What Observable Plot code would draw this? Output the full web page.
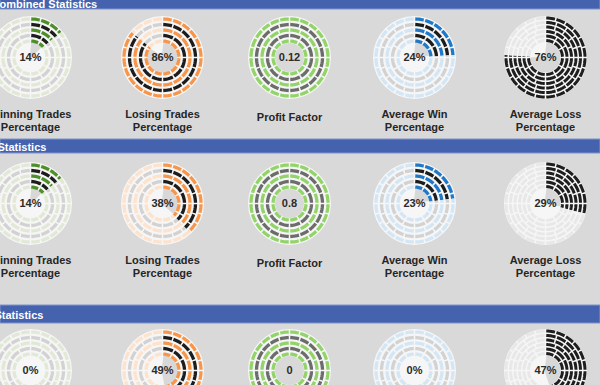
<!DOCTYPE html>
<html>
<head>
<meta charset="utf-8">
<script src="https://cdn.jsdelivr.net/npm/d3@7"></script>
<script src="https://cdn.jsdelivr.net/npm/@observablehq/plot@0.6"></script>
<style>
  html, body { margin: 0; padding: 0; background: #d9d9d9; overflow: hidden; }
</style>
</head>
<body>
<div id="chart"></div>
<script>
// ---- data ----
const sectionTitles = ["Combined Statistics", "Statistics", "Statistics"];
const metricLabels = ["Winning Trades\nPercentage", "Losing Trades\nPercentage", "Profit Factor", "Average Win\nPercentage", "Average Loss\nPercentage"];
const metricKinds = ["win", "lose", "pf", "avgwin", "avgloss"];
const combinedValues = [14, 86, 0.12, 24, 76];
const statisticsValues = [14, 38, 0.8, 23, 29];
const statistics2Values = [0, 49, 0, 0, 47];
const sectionValues = [combinedValues, statisticsValues, statistics2Values];

// ---- layout & style ----
const W = 600, H = 385;
const colX = [30, 162, 289, 414, 545];
const sectionBars = [[-2, 9], [139, 153], [305, 323]];
const gaugeY = [57, 203, 370];
const labelOffset = 52;
const palette = {
  win:    {a: ["#4f8f2a", "#e1e9d6"], b: ["#1c1c1c", "#d2d2d2"]},
  lose:   {a: ["#f7964a", "#fde2cc"], b: ["#1c1c1c", "#d2d2d2"]},
  pf:     {a: ["#92d36a", "#92d36a"], b: ["#6c6c6c", "#6c6c6c"]},
  avgwin: {a: ["#1f78c8", "#d3e6f6"], b: ["#1c1c1c", "#d2d2d2"]},
  avgloss:{a: ["#1e1e1e", "#e8e8e8"], b: ["#1e1e1e", "#e8e8e8"]}
};

// ---- build gauge tables ----
const gauges = [];
sectionValues.forEach((vals, si) => {
  vals.forEach((v, mi) => {
    const kind = metricKinds[mi];
    gauges.push({
      id: `${si}-${mi}`, kind, value: v,
      frac: kind === "pf" ? 1 : v / 100,
      cx: colX[mi], cy: gaugeY[si],
      text: kind === "pf" ? String(v) : `${v}%`,
      label: metricLabels[mi]
    });
  });
});

const TAU = Math.PI * 2;
function arcPts(g, r, a0, a1, color, id, out) {
  const steps = Math.max(2, Math.ceil((a1 - a0) * r / 2));
  for (let i = 0; i <= steps; i++) {
    const a = a0 + (a1 - a0) * i / steps;
    out.push({id, c: color, x: g.cx + r * Math.sin(a), y: g.cy - r * Math.cos(a)});
  }
}

const segNormal = [], segLoss = [], wedges = [];
let sid = 0;
for (const g of gauges) {
  const isLoss = g.kind === "avgloss";
  const radii = isLoss ? [39.5, 35, 30.5, 26, 21.5, 17] : [38.5, 33, 27.5, 22, 16.5];
  const out = isLoss ? segLoss : segNormal;
  const pal = palette[g.kind];
  const cut = g.frac * TAU;
  radii.forEach((r, ri) => {
    const cols = ri % 2 === 0 ? pal.a : pal.b;
    let n = Math.round(TAU * r / 10.5 / 4) * 4;
    n = Math.max(n, 12);
    const gap = 1.5 / r;
    for (let k = 0; k < n; k++) {
      const a0 = k * TAU / n + gap / 2, a1 = (k + 1) * TAU / n - gap / 2;
      if (cut <= a0) arcPts(g, r, a0, a1, cols[1], sid++, out);
      else if (cut >= a1) arcPts(g, r, a0, a1, cols[0], sid++, out);
      else { arcPts(g, r, a0, cut, cols[0], sid++, out); arcPts(g, r, cut, a1, cols[1], sid++, out); }
    }
  });
  if (g.kind !== "pf" && g.frac > 0) arcPts(g, 7.5, 0, cut, "#d8d8d8", sid++, wedges);
}

const headers = sectionTitles.map((t, i) => ({title: t, y1: sectionBars[i][0], y2: sectionBars[i][1]}));

const chart = Plot.plot({
  width: W, height: H, margin: 0,
  x: {type: "identity", axis: null},
  y: {type: "identity", axis: null},
  r: {type: "identity"},
  color: {type: "identity"},
  style: {background: "#d9d9d9", fontFamily: "'Liberation Sans', Arial, sans-serif"},
  marks: [
    // gauge discs
    Plot.dot(gauges, {x: "cx", y: "cy", r: () => 41.5, fill: "#f6f6f6", stroke: "none"}),
    Plot.dot(gauges.filter(g => g.kind === "pf"), {x: "cx", y: "cy", r: () => 14.5, fill: "#d9d9d9", stroke: "none"}),
    // center wedge
    Plot.line(wedges, {x: "x", y: "y", z: "id", stroke: "c", strokeWidth: 15, strokeLinecap: "butt"}),
    // ring segments
    Plot.line(segNormal, {x: "x", y: "y", z: "id", stroke: "c", strokeWidth: 3.3, strokeLinecap: "butt"}),
    Plot.line(segLoss, {x: "x", y: "y", z: "id", stroke: "c", strokeWidth: 3.0, strokeLinecap: "butt"}),
    // center values
    Plot.text(gauges, {x: "cx", y: "cy", text: "text", fontSize: 11, fontWeight: "bold", fill: "#2b2b2b"}),
    // labels
    Plot.text(gauges, {x: "cx", y: g => g.cy + labelOffset + (g.label.includes("\n") ? 0 : 3), text: "label",
      lineAnchor: "top", lineHeight: 1.15, fontSize: 11, fontWeight: "bold", fill: "#262626"}),
    // section header bars
    Plot.rect(headers, {x1: () => 0, x2: () => W, y1: "y1", y2: "y2", fill: "#4462ad", stroke: "#7f93cc", strokeWidth: 1}),
    Plot.text(headers, {x: (d, i) => [-9, -3, -6][i], y: d => (d.y1 + d.y2) / 2 + 0.5, text: "title", textAnchor: "start",
      fontSize: 11, fontWeight: "bold", fill: "white"})
  ]
});
document.getElementById("chart").appendChild(chart);
</script>
</body>
</html>
